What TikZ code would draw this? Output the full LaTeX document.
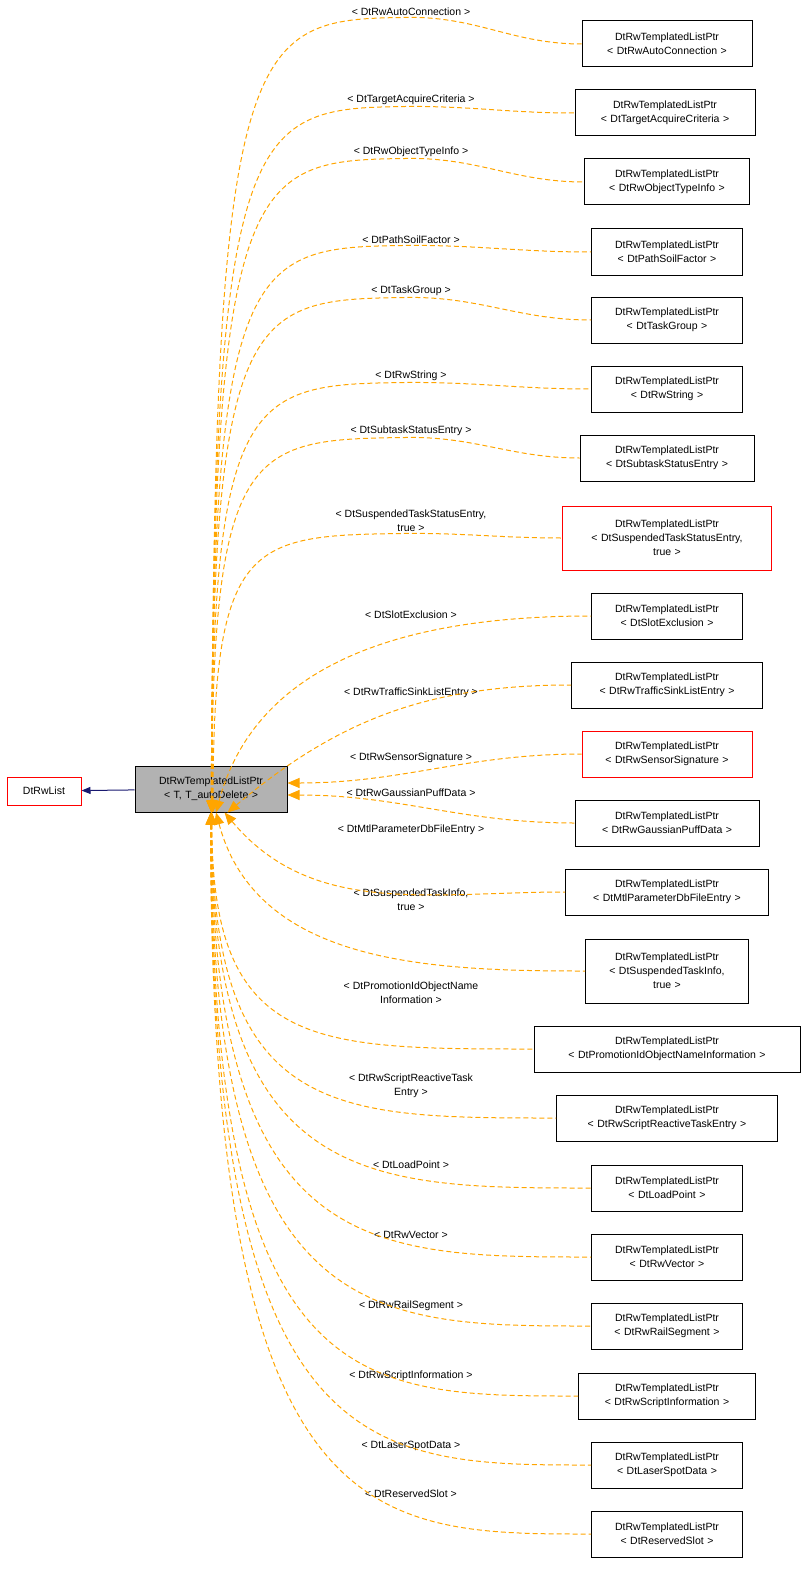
\documentclass[tikz,border=0pt]{standalone}
\usepackage{fontspec}
\setmainfont{Liberation Sans}
\usetikzlibrary{arrows.meta,positioning}
\definecolor{edgeorange}{RGB}{255,165,0}
\definecolor{edgenavy}{RGB}{25,25,112}
\tikzset{
  cls/.style={draw=black, fill=white, align=center, inner sep=2pt, line width=1pt, minimum height=46pt, text width=#1, font=\fontsize{10.5}{14}\selectfont},
  cls/.default=150pt,
  inh/.style={draw=edgeorange, line width=1pt, dash pattern=on 5pt off 3pt, {Triangle[width=10pt,length=12pt,fill=edgeorange]}-},
  lbl/.style={align=center, font=\fontsize{10.5}{14}\selectfont}
}
\begin{document}
\begin{tikzpicture}[x=1pt,y=-1pt]
        \useasboundingbox (0,0) rectangle (808,1570);

        \node[cls=70pt, minimum height=28pt, draw=red] (cList) at (44,791) {DtRwList};
        \node[cls=148pt, fill=gray!60] (cMain) at (211,789) {DtRwTemplatedListPtr\\{\textless} T, T\_autoDelete {\textgreater}};
        \draw[draw=edgenavy, line width=1pt, {Triangle[width=7pt,length=9pt,fill=edgenavy]}-] (cList) -- (cMain);

        % derived classes
        \node[cls=166pt] (cT1) at (667,44) {DtRwTemplatedListPtr\\{\textless} DtRwAutoConnection {\textgreater}};
        \node[cls=176pt] (cT2) at (665,113) {DtRwTemplatedListPtr\\{\textless} DtTargetAcquireCriteria {\textgreater}};
        \node[cls=161pt] (cT3) at (667,182) {DtRwTemplatedListPtr\\{\textless} DtRwObjectTypeInfo {\textgreater}};
        \node[cls=147pt] (cT4) at (667,252) {DtRwTemplatedListPtr\\{\textless} DtPathSoilFactor {\textgreater}};
        \node[cls=147pt] (cT5) at (667,320) {DtRwTemplatedListPtr\\{\textless} DtTaskGroup {\textgreater}};
        \node[cls=147pt] (cT6) at (667,389) {DtRwTemplatedListPtr\\{\textless} DtRwString {\textgreater}};
        \node[cls=170pt] (cT7) at (667,458) {DtRwTemplatedListPtr\\{\textless} DtSubtaskStatusEntry {\textgreater}};
        \node[cls=205pt, minimum height=64pt, draw=red] (cT8) at (667,538) {DtRwTemplatedListPtr\\{\textless} DtSuspendedTaskStatusEntry,\\true {\textgreater}};
        \node[cls=147pt] (cT9) at (667,616) {DtRwTemplatedListPtr\\{\textless} DtSlotExclusion {\textgreater}};
        \node[cls=187pt] (cT10) at (667,685) {DtRwTemplatedListPtr\\{\textless} DtRwTrafficSinkListEntry {\textgreater}};
        \node[cls=166pt, draw=red] (cT11) at (667,754) {DtRwTemplatedListPtr\\{\textless} DtRwSensorSignature {\textgreater}};
        \node[cls=180pt] (cT12) at (667,823) {DtRwTemplatedListPtr\\{\textless} DtRwGaussianPuffData {\textgreater}};
        \node[cls=199pt] (cT13) at (667,892) {DtRwTemplatedListPtr\\{\textless} DtMtlParameterDbFileEntry {\textgreater}};
        \node[cls=159pt, minimum height=64pt] (cT14) at (667,971) {DtRwTemplatedListPtr\\{\textless} DtSuspendedTaskInfo,\\true {\textgreater}};
        \node[cls=262pt] (cT15) at (667,1049) {DtRwTemplatedListPtr\\{\textless} DtPromotionIdObjectNameInformation {\textgreater}};
        \node[cls=217pt] (cT16) at (667,1118) {DtRwTemplatedListPtr\\{\textless} DtRwScriptReactiveTaskEntry {\textgreater}};
        \node[cls=147pt] (cT17) at (667,1188) {DtRwTemplatedListPtr\\{\textless} DtLoadPoint {\textgreater}};
        \node[cls=147pt] (cT18) at (667,1257) {DtRwTemplatedListPtr\\{\textless} DtRwVector {\textgreater}};
        \node[cls=147pt] (cT19) at (667,1326) {DtRwTemplatedListPtr\\{\textless} DtRwRailSegment {\textgreater}};
        \node[cls=173pt] (cT20) at (667,1396) {DtRwTemplatedListPtr\\{\textless} DtRwScriptInformation {\textgreater}};
        \node[cls=147pt] (cT21) at (667,1465) {DtRwTemplatedListPtr\\{\textless} DtLaserSpotData {\textgreater}};
        \node[cls=147pt] (cT22) at (667,1534) {DtRwTemplatedListPtr\\{\textless} DtReservedSlot {\textgreater}};

        % template arguments on the edges
        \node[lbl] (cL1) at (411,12) {{\textless} DtRwAutoConnection {\textgreater}};
        \node[lbl] (cL2) at (411,100) {{\textless} DtTargetAcquireCriteria {\textgreater}};
        \node[lbl] (cL3) at (411,152) {{\textless} DtRwObjectTypeInfo {\textgreater}};
        \node[lbl] (cL4) at (411,240) {{\textless} DtPathSoilFactor {\textgreater}};
        \node[lbl] (cL5) at (411,291) {{\textless} DtTaskGroup {\textgreater}};
        \node[lbl] (cL6) at (411,376) {{\textless} DtRwString {\textgreater}};
        \node[lbl] (cL7) at (411,431) {{\textless} DtSubtaskStatusEntry {\textgreater}};
        \node[lbl] (cL8) at (411,521) {{\textless} DtSuspendedTaskStatusEntry,\\true {\textgreater}};
        \node[lbl] (cL9) at (411,615) {{\textless} DtSlotExclusion {\textgreater}};
        \node[lbl] (cL10) at (411,693) {{\textless} DtRwTrafficSinkListEntry {\textgreater}};
        \node[lbl] (cL11) at (411,758) {{\textless} DtRwSensorSignature {\textgreater}};
        \node[lbl] (cL12) at (411,793) {{\textless} DtRwGaussianPuffData {\textgreater}};
        \node[lbl] (cL13) at (411,830) {{\textless} DtMtlParameterDbFileEntry {\textgreater}};
        \node[lbl] (cL14) at (411,900) {{\textless} DtSuspendedTaskInfo,\\true {\textgreater}};
        \node[lbl] (cL15) at (411,993) {{\textless} DtPromotionIdObjectName\\Information {\textgreater}};
        \node[lbl] (cL16) at (411,1086) {{\textless} DtRwScriptReactiveTask\\Entry {\textgreater}};
        \node[lbl] (cL17) at (411,1165) {{\textless} DtLoadPoint {\textgreater}};
        \node[lbl] (cL18) at (411,1235) {{\textless} DtRwVector {\textgreater}};
        \node[lbl] (cL19) at (411,1306) {{\textless} DtRwRailSegment {\textgreater}};
        \node[lbl] (cL20) at (411,1376) {{\textless} DtRwScriptInformation {\textgreater}};
        \node[lbl] (cL21) at (411,1446) {{\textless} DtLaserSpotData {\textgreater}};
        \node[lbl] (cL22) at (411,1494) {{\textless} DtReservedSlot {\textgreater}};

        % upper edges: up from the base class, under the label, into the class
        \foreach \t/\a in {1/-87, 2/-88, 3/-88, 4/-89, 5/-89, 6/-89, 7/-88, 8/-85}
            \draw[inh] (cMain.\a) .. controls (cMain.\a |- cL\t.south) and ([xshift=-160pt]cL\t.south) .. ([yshift=2pt]cL\t.south)
                to[out=0, in=180] (cT\t.west);
        % lower edges: steep from the base class, flat near the class
        \foreach \t/\a in {15/-88, 16/-88, 17/-89, 18/-89, 19/-90, 20/-90, 21/-91, 22/-91}
            \draw[inh] (cMain.\a) .. controls (cMain.\a |- cT\t.west) and ([xshift=-220pt]cT\t.west) .. (cT\t.west);
        % short edges near the base class
        \foreach \t/\a/\o in {9/-78/75, 10/-55/40}
            \draw[inh] (cMain.\a) to[out=\o, in=180] (cT\t.west);
        \draw[inh] (cMain.east) ++(0,-6) to[out=0, in=180] (cT11.west);
        \draw[inh] (cMain.east) ++(0,6) to[out=0, in=180] (cT12.west);
        \foreach \t/\a/\o in {13/-60/-50, 14/-78/-75}
            \draw[inh] (cMain.\a) to[out=\o, in=180] (cT\t.west);
\end{tikzpicture}
\end{document}
